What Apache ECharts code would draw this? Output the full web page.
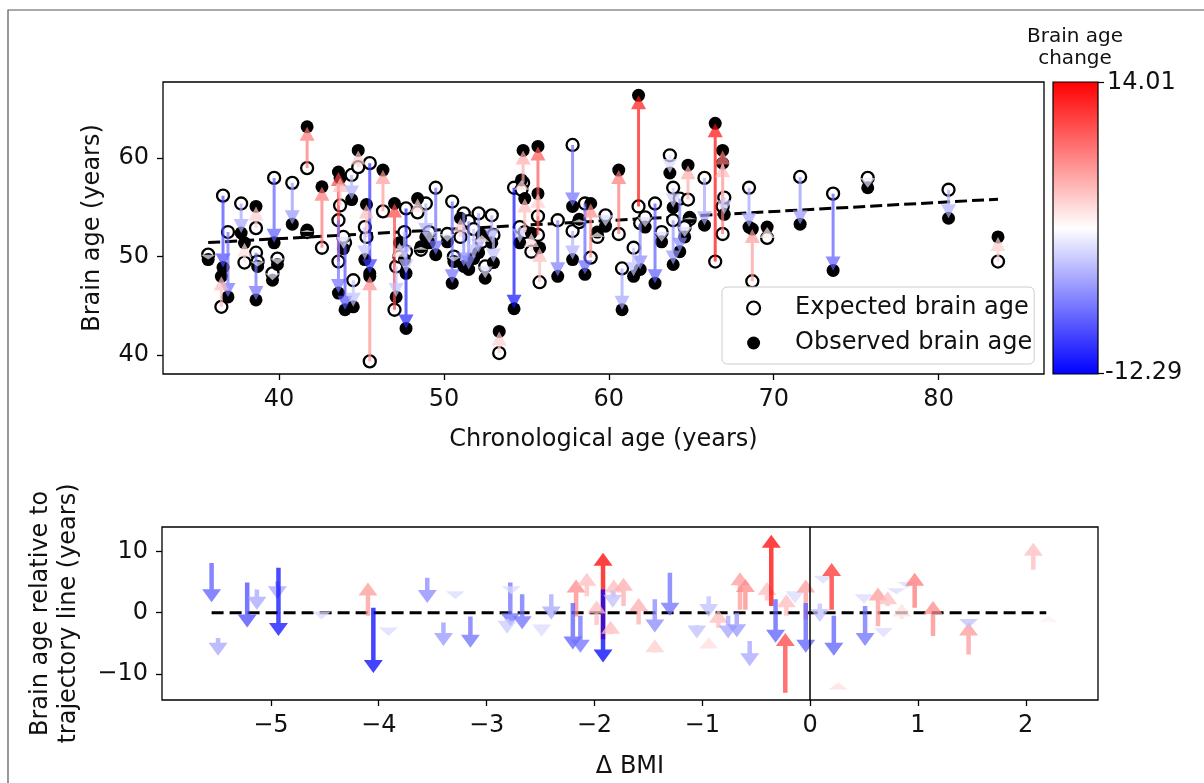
<!DOCTYPE html>
<html><head><meta charset="utf-8">
<script src="https://cdn.jsdelivr.net/npm/echarts@6/dist/echarts.min.js"></script>
<style>html,body{margin:0;padding:0;background:#fff}#c{width:1204px;height:783px}</style>
</head><body><div id="c"></div>
<script>
// ---------- top panel data ----------
const ageX = [35.7,36.6,36.9,36.5,37.7,37.9,38.6,38.6,38.7,39.6,39.9,39.7,40.8,41.7,41.7,42.6,43.6,43.6,44.0,44.5,44.4,44.8,45.5,45.5,45.3,46.3,47.0,47.1,47.7,47.7,48.4,49.5,49.1,48.6,50.5,50.6,51.2,51.5,52.1,52.5,52.9,51.0,53.35,54.25,54.8,54.7,54.6,55.7,55.8,55.7,56.9,57.8,57.8,58.55,58.9,59.8,60.6,60.8,61.8,61.9,61.5,62.8,63.7,63.9,64.3,63.9,64.8,64.9,65.8,66.45,66.9,66.9,68.5,68.7,69.6,71.6,73.6,75.7,80.6,83.6,
  43.7,43.9,45.2,47.3,47.6,48.9,50.2,51.8,52.3,53.0,54.9,55.3,58.2,59.3,62.2,63.2,64.6,67.0];
const expectedAge = [50.2,56.2,52.5,44.9,55.4,49.4,52.9,50.4,49.5,48.3,49.8,58.0,57.5,59.0,52.5,50.9,49.5,53.7,51.4,47.6,58.3,59.1,59.5,39.35,52.0,54.6,44.6,49.0,54.9,50.5,54.5,57.0,52.5,50.7,55.6,50.0,54.4,53.6,54.4,49.0,54.2,52.0,40.2,57.0,57.5,56.8,53.0,52.2,47.4,54.1,53.7,61.35,52.6,55.4,49.9,54.2,52.3,48.8,55.1,53.4,50.9,55.4,60.3,57.0,55.9,53.7,55.8,53.8,58.0,49.5,52.3,55.1,57.0,47.5,51.9,58.1,56.4,58.0,56.8,49.5,
  55.2,52.0,53.0,50.0,52.5,55.4,52.3,52.8,51.5,52.2,52.5,50.5,53.5,52.0,54.0,52.5,53.0,56.0];
const observedAge = [49.7,48.9,45.9,48.0,52.4,51.4,55.1,45.6,49.0,47.6,49.2,51.4,53.3,63.2,52.7,57.1,58.6,46.3,44.6,44.9,55.8,60.8,48.3,48.0,55.3,58.8,55.4,45.9,42.7,48.3,55.9,50.2,51.4,51.0,47.3,49.5,49.0,48.7,50.4,47.8,51.4,53.9,42.4,44.7,60.8,57.8,51.4,61.2,50.9,56.4,48.0,55.1,49.7,48.2,55.4,53.1,58.8,44.6,66.4,48.7,48.0,47.3,58.5,55.0,50.5,49.2,59.3,54.0,53.2,63.55,60.8,59.5,53.0,52.8,53.0,53.3,48.6,57.0,53.9,52.0,
  58.0,50.8,49.7,51.4,49.7,52.0,51.5,49.8,52.2,49.4,55.9,52.4,53.8,52.5,53.0,51.5,52.0,54.3];
const changeTop = [-0.2,-8.5,-6.5,4.3,-3.8,2.5,3.4,-6.5,-0.2,-0.2,-0.2,-7.5,-4.5,7.8,0.86,7.8,10.5,-6.5,-8,-2.4,-3.2,3.4,-9.5,6.5,4.3,6,10.5,-2.4,-10.5,-2.4,2.5,-6.5,-1,0.86,-6.5,-0.2,-5.2,-5.2,-3.8,-1,-3.2,3.4,3.4,-11.5,5.1,2.5,-1.8,9.5,4.3,3.4,-5.8,-6.5,-3.2,-7,6.9,-1,7.8,-3.8,13,-5.2,-2.4,-7.5,-1,-1.8,-5.2,-4.5,5.1,0.86,-3.8,13.5,7.8,4.3,-3.8,6,1.7,-4.5,-7.5,-0.2,-3.2,3.4,
  4.3,-1,-2.4,2.5,-2.4,-3.2,-0.2,-2.4,1.7,-2.4,4.3,2.5,0.86,1.7,-1,-1,-1,-1.8];
const trendX = [35.7, 83.6];
const trendY = [51.43, 55.84];
const topXTicks = [40, 50, 60, 70, 80];
const topYTicks = [40, 50, 60];

// ---------- bottom panel data ----------
const deltaBMI = [-5.55,-5.49,-5.22,-5.13,-4.94,-4.93,-4.53,-4.10,-4.05,-3.91,-3.55,-3.29,-3.40,-3.15,-2.78,-2.81,-2.77,-2.67,-2.49,-2.40,-2.17,-2.07,-2.20,-2.13,-1.92,-1.92,-1.98,-1.85,-1.82,-1.83,-1.73,-1.59,-1.44,-1.44,-1.30,-1.05,-0.94,-0.94,-0.85,-0.76,-0.68,-0.56,-0.65,-0.60,-0.40,-0.36,-0.32,-0.23,-0.22,-0.14,-0.04,-0.04,0.09,0.12,0.20,0.22,0.26,0.50,0.51,0.63,0.68,0.72,0.80,0.85,0.90,0.97,1.14,1.47,1.47,2.07,2.21];
const relStart = [8.1,-4.1,4.9,3.8,5.1,7.3,0.2,-0.5,0.8,-2.4,5.7,3.5,-1.6,-0.6,4.9,-1.0,4.3,3.0,-1.9,3.0,-0.6,2.7,1.6,-0.5,-4.3,3.8,-2.0,-3.5,2.5,3.6,1.1,-1.9,2.2,-6.5,6.5,-2.0,2.7,-5.8,-2.5,-0.5,0.0,-4.6,0.5,0.5,2.0,1.1,2.2,-13.0,-0.5,3.5,-1.1,1.6,1.5,6.0,0.5,-0.5,-12.5,3.0,1.1,-2.2,-2.5,1.1,4.0,-1.0,5.0,0.8,-3.8,-6.8,-1.0,7.0,-1.5];
const relEnd = [1.7,-7.0,-2.4,0.5,2.2,-3.8,-1.1,4.9,-9.8,-3.8,1.6,2.2,-5.4,-5.7,-2.2,-3.4,3.0,-2.7,-3.9,-1.1,5.4,6.5,-6.0,-6.5,9.75,-8.1,2.0,-1.3,5.4,0.8,5.7,2.4,-3.2,-4.3,-0.5,-4.2,-0.7,-4.0,0.5,-4.2,-4.0,-8.7,6.6,5.5,5.0,12.7,-4.9,-3.3,3.0,1.5,5.4,-6.5,-1.5,4.7,8.1,-7.0,-11.3,1.5,-5.4,4.1,-4.0,3.5,3.0,1.5,4.0,6.5,1.9,-1.6,-2.5,11.4,-0.5];
const changeBottom = [-7.5,-3.8,-8.5,-3.8,-3.8,-11.5,-1,6,-12,-1,-5.2,-1,-4.5,-6.5,-6.5,-1.8,-1,-6.5,-1,-3.8,6.9,4.3,-7.5,-6.5,14.01,-12.29,4.3,4.3,4.3,-2.4,5.1,5.1,-5.2,3.4,-6.5,-2.4,-2.4,2.5,4.3,-3.8,-4.5,-3.8,6,6.9,4.3,13.8,-7.5,10.5,4.3,-1,6,-7.5,-2.4,-1,11.5,-7.5,2.5,-1,-6.5,6,-1,4.3,-1,2.5,-1,7.8,6.9,6,-2.4,4.3,1.7];
const zeroLineX = [-5.55, 2.19];
const zeroLineY = [0, 0];
const botXTicks = [-5, -4, -3, -2, -1, 0, 1, 2];
const botYTicks = [-10, 0, 10];

// ---------- colour scale ----------
const changeRange = [-12.29, 14.01];
const cmapStops = ['#ff0000', '#ffffff', '#0000ff']; // top -> bottom of colorbar
const cbarLabels = ['14.01', '-12.29'];

const FONT = 'DejaVu Sans';
function bwr(v) {
  let f = (v - changeRange[0]) / (changeRange[1] - changeRange[0]);
  f = Math.max(0, Math.min(1, f));
  let r, g, b;
  if (f < 0.5) { r = g = 2 * f; b = 1; } else { r = 1; g = b = 2 * (1 - f); }
  return 'rgb(' + Math.round(r * 255) + ',' + Math.round(g * 255) + ',' + Math.round(b * 255) + ')';
}
function arrowRenderer(shaftW, headW, headL, alpha) {
  return function (params, api) {
    const x = api.value(0), y0 = api.value(1), y1 = api.value(2), c = api.value(3);
    const p0 = api.coord([x, y0]), p1 = api.coord([x, y1]);
    const dy = p1[1] - p0[1];
    const len = Math.abs(dy);
    const dir = dy >= 0 ? 1 : -1;
    const hl = Math.min(headL, len);
    const by = p1[1] - dir * hl;
    const cx = p1[0];
    let pts;
    if (len > hl + 0.5) {
      pts = [[cx - shaftW / 2, p0[1]], [cx - shaftW / 2, by], [cx - headW / 2, by], [cx, p1[1]],
             [cx + headW / 2, by], [cx + shaftW / 2, by], [cx + shaftW / 2, p0[1]]];
    } else {
      pts = [[cx - headW / 2, by], [cx, p1[1]], [cx + headW / 2, by]];
    }
    return { type: 'polygon', shape: { points: pts }, style: { fill: bwr(c), opacity: alpha } };
  };
}
const minusFmt = v => String(v).replace('-', '\u2212');

const topArrows = ageX.map((x, i) => [x, expectedAge[i], observedAge[i], changeTop[i]]);
const botArrows = deltaBMI.map((x, i) => [x, relStart[i], relEnd[i], changeBottom[i]]);

const axisText = { fontFamily: FONT, fontSize: 24, color: '#111' };
const tickStyle = { show: true, length: 6, lineStyle: { color: '#000', width: 1.3 } };
const noLine = { show: false, onZero: false };

const chart = echarts.init(document.getElementById('c'), null, { renderer: 'canvas' });
chart.setOption({
  animation: false,
  backgroundColor: '#fff',
  textStyle: { fontFamily: FONT },
  grid: [
    { left: 163, top: 82, width: 881, height: 292, show: true, borderColor: '#000', borderWidth: 1.3, backgroundColor: 'transparent' },
    { left: 162, top: 527, width: 936, height: 173, show: true, borderColor: '#000', borderWidth: 1.3, backgroundColor: 'transparent' }
  ],
  xAxis: [
    { gridIndex: 0, type: 'value', min: 32.96, max: 86.39, splitLine: { show: false }, axisLine: noLine,
      axisTick: Object.assign({ customValues: topXTicks }, tickStyle),
      axisLabel: Object.assign({ customValues: topXTicks, margin: 14 }, axisText),
      name: 'Chronological age (years)', nameLocation: 'middle', nameGap: 54, nameTextStyle: axisText },
    { gridIndex: 1, type: 'value', min: -6.01, max: 2.67, splitLine: { show: false }, axisLine: noLine,
      axisTick: Object.assign({ customValues: botXTicks }, tickStyle),
      axisLabel: Object.assign({ customValues: botXTicks, margin: 14, formatter: minusFmt }, axisText),
      name: 'Δ BMI', nameLocation: 'middle', nameGap: 55, nameTextStyle: axisText }
  ],
  yAxis: [
    { gridIndex: 0, type: 'value', min: 38.07, max: 67.75, splitLine: { show: false }, axisLine: noLine,
      axisTick: Object.assign({ customValues: topYTicks }, tickStyle),
      axisLabel: Object.assign({ customValues: topYTicks, margin: 14 }, axisText),
      name: 'Brain age (years)', nameLocation: 'middle', nameGap: 58, nameRotate: 90, nameTextStyle: axisText },
    { gridIndex: 1, type: 'value', min: -14.2, max: 13.95, splitLine: { show: false }, axisLine: noLine,
      axisTick: Object.assign({ customValues: botYTicks }, tickStyle),
      axisLabel: Object.assign({ customValues: botYTicks, margin: 14, formatter: minusFmt }, axisText),
      name: 'Brain age relative to\ntrajectory line (years)', nameLocation: 'middle', nameGap: 79, nameRotate: 90,
      nameTextStyle: Object.assign({ lineHeight: 28 }, axisText) }
  ],
  legend: {
    left: 722, top: 287, orient: 'vertical', padding: [9, 2, 9, 24], itemGap: 11,
    itemWidth: 13, itemHeight: 13, borderColor: '#cccccc', borderWidth: 1, borderRadius: 5,
    backgroundColor: 'rgba(255,255,255,0.85)',
    textStyle: { fontFamily: FONT, fontSize: 24, color: '#111', padding: [0, 0, 0, 30] },
    data: [
      { name: 'Expected brain age', icon: 'circle', itemStyle: { color: '#fff', borderColor: '#000', borderWidth: 2.2 } },
      { name: 'Observed brain age', icon: 'circle', itemStyle: { color: '#000' } }
    ]
  },
  series: [
    { name: 'trend', type: 'line', xAxisIndex: 0, yAxisIndex: 0, data: trendX.map((x, i) => [x, trendY[i]]),
      symbol: 'none', z: 1, lineStyle: { color: '#000', width: 3, type: [12, 5] }, silent: true },
    { name: 'Expected brain age', type: 'scatter', xAxisIndex: 0, yAxisIndex: 0,
      data: ageX.map((x, i) => [x, expectedAge[i]]), symbol: 'circle', symbolSize: 12, z: 2,
      itemStyle: { color: '#fff', borderColor: '#000', borderWidth: 2.3, opacity: 1 } },
    { name: 'Observed brain age', type: 'scatter', xAxisIndex: 0, yAxisIndex: 0,
      data: ageX.map((x, i) => [x, observedAge[i]]), symbol: 'circle', symbolSize: 13, z: 3,
      itemStyle: { color: '#000', opacity: 1 } },
    { name: 'topArrows', type: 'custom', xAxisIndex: 0, yAxisIndex: 0, data: topArrows, z: 4,
      encode: { x: 0, y: [1, 2] }, renderItem: arrowRenderer(3, 15, 14, 0.7), silent: true },
    { name: 'zero', type: 'line', xAxisIndex: 1, yAxisIndex: 1, data: zeroLineX.map((x, i) => [x, zeroLineY[i]]),
      symbol: 'none', z: 3, lineStyle: { color: '#000', width: 3, type: [12, 6] }, silent: true,
      markLine: { silent: true, symbol: 'none', label: { show: false }, lineStyle: { color: '#000', width: 1.5, type: 'solid' },
        data: [{ xAxis: 0 }] } },
    { name: 'botArrows', type: 'custom', xAxisIndex: 1, yAxisIndex: 1, data: botArrows, z: 4,
      encode: { x: 0, y: [1, 2] }, renderItem: arrowRenderer(4.5, 19, 13, 0.75), silent: true }
  ],
  graphic: [
    { type: 'rect', shape: { x: 8, y: 10, width: 1210, height: 800 }, style: { fill: 'none', stroke: '#555', lineWidth: 1.2 }, silent: true },
    { type: 'rect', shape: { x: 1053, y: 82, width: 45, height: 292 },
      style: { fill: new echarts.graphic.LinearGradient(0, 0, 0, 1, cmapStops.map((c, i) => ({ offset: i / (cmapStops.length - 1), color: c }))),
               stroke: '#000', lineWidth: 1.2 }, silent: true },
    { type: 'line', shape: { x1: 1098, y1: 82.5, x2: 1104, y2: 82.5 }, style: { stroke: '#000', lineWidth: 1.2 } },
    { type: 'line', shape: { x1: 1098, y1: 373.5, x2: 1104, y2: 373.5 }, style: { stroke: '#000', lineWidth: 1.2 } },
    { type: 'text', x: 1107, y: 83, style: { text: cbarLabels[0], font: '24px "DejaVu Sans"', fill: '#111', verticalAlign: 'middle', align: 'left' } },
    { type: 'text', x: 1105, y: 373, style: { text: cbarLabels[1], font: '24px "DejaVu Sans"', fill: '#111', verticalAlign: 'middle', align: 'left' } },
    { type: 'text', x: 1075, y: 48, style: { text: 'Brain age\nchange', font: '20px "DejaVu Sans"', fill: '#111', align: 'center', verticalAlign: 'middle', lineHeight: 22 } }
  ]
});
</script>
</body></html>
